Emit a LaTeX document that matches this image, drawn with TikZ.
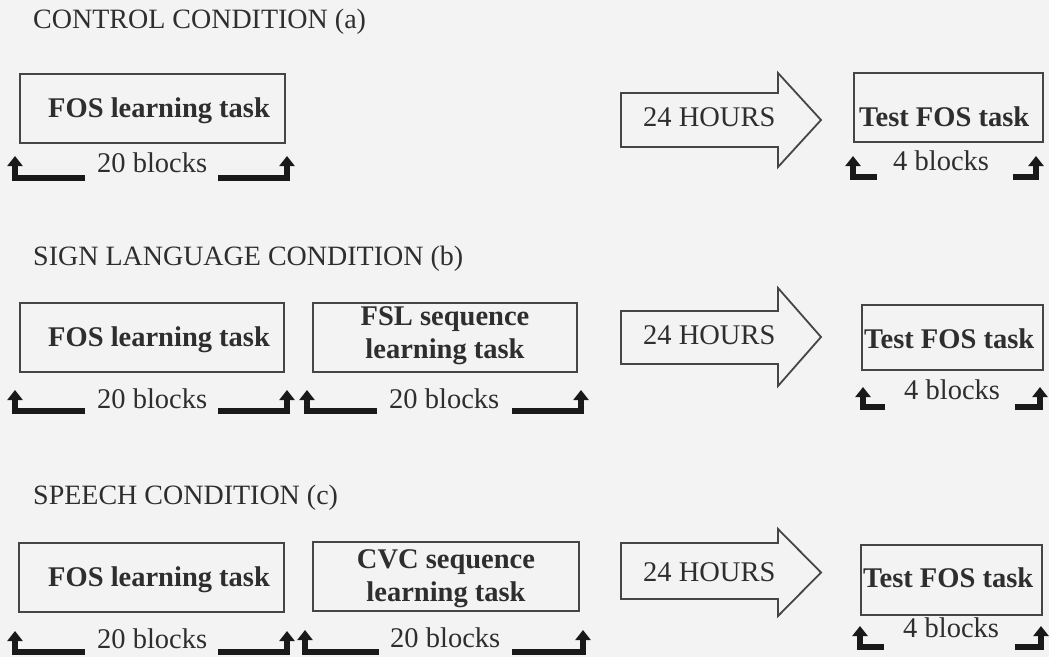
\documentclass[tikz,border=0pt]{standalone}
\usepackage{fontspec}
\setmainfont{Liberation Serif}
\usetikzlibrary{arrows.meta}
\definecolor{bgc}{HTML}{F3F3F3}
\definecolor{ink}{HTML}{2E2E2E}
\definecolor{linec}{HTML}{454545}
\newcommand{\hrsarrow}[4]{%
  \draw[harrow] (621,#1) -- (778,#1) -- (778,#3) -- (821,{(#3+#4)/2}) -- (778,#4) -- (778,#2) -- (621,#2) -- cycle;}
\newcommand{\brkt}[4]{\draw[brkline] (#1,#3) -- (#2,#3) -- (#2,#4);}
\begin{document}
\begin{tikzpicture}[x=1pt,y=-1pt,
  box/.style={draw=linec, line width=1.8pt, inner sep=0pt},
  ttl/.style={anchor=base west, font=\fontsize{28}{30}\selectfont, text=ink, inner sep=0pt},
  bt/.style={anchor=base west, font=\bfseries\fontsize{28.5}{33}\selectfont, text=ink, inner sep=0pt},
  bt2/.style={anchor=base, align=center, font=\bfseries\fontsize{28.5}{33}\selectfont, text=ink, inner sep=0pt},
  blk/.style={anchor=base west, font=\fontsize{28.5}{30}\selectfont, text=ink, inner sep=0pt},
  hrs/.style={anchor=base west, font=\fontsize{28.5}{30}\selectfont, text=ink, inner sep=0pt},
  harrow/.style={draw=linec, line width=1.8pt, line join=miter},
  brkline/.style={line width=5.8pt, black!90, line join=miter, -{Triangle[width=15pt,length=10pt]}}
]
\useasboundingbox[fill=bgc] (0,0) rectangle (1049,657);

% ---------------- Row a ----------------
\node[ttl] (ta) at (33,28) {CONTROL CONDITION (a)};
\node[box, minimum width=265pt, minimum height=69pt] (fosa) at (152.5,108.5) {};
\node[bt] (fosatx) at (48,117) {FOS learning task};
\brkt{85}{15}{178}{156}
\node[blk] (bla) at (97,172) {20 blocks};
\brkt{218}{287}{178}{156}
\hrsarrow{93}{147}{73}{167}
\node[hrs] (ha) at (643,126) {24 HOURS};
\node[box, minimum width=189pt, minimum height=69pt] (testa) at (948.5,107.5) {};
\node[bt] (testatx) at (859,126) {Test FOS task};
\node[blk] (b4a) at (893,170) {4 blocks};
\brkt{877}{853}{177}{156}
\brkt{1013}{1036}{177}{156}

% ---------------- Row b ----------------
\node[ttl] (tb) at (33,265) {SIGN LANGUAGE CONDITION (b)};
\node[box, minimum width=264pt, minimum height=69pt] (fosb) at (152,337.5) {};
\node[bt] (fosbtx) at (48,346) {FOS learning task};
\node[box, minimum width=264pt, minimum height=69pt] (fslb) at (445,337.5) {};
\node[bt2] (fslbtx) at (445,358) {FSL sequence\\learning task};
\brkt{85}{15}{411}{390}
\node[blk] (blb1) at (97,408) {20 blocks};
\brkt{218}{287}{411}{390}
\brkt{377}{307}{411}{390}
\node[blk] (blb2) at (389,408) {20 blocks};
\brkt{512}{581}{411}{390}
\hrsarrow{311}{364}{288}{386}
\node[hrs] (hb) at (643,344) {24 HOURS};
\node[box, minimum width=181pt, minimum height=65pt] (testb) at (952.5,337.5) {};
\node[bt] (testbtx) at (864,348) {Test FOS task};
\node[blk] (b4b) at (904,399) {4 blocks};
\brkt{885}{863}{407}{387}
\brkt{1015}{1040}{407}{387}

% ---------------- Row c ----------------
\node[ttl] (tc) at (33,504) {SPEECH CONDITION (c)};
\node[box, minimum width=265pt, minimum height=69pt] (fosc) at (151.5,577.5) {};
\node[bt] (fosctx) at (48,586) {FOS learning task};
\node[box, minimum width=266pt, minimum height=69pt] (cvcc) at (446,576.5) {};
\node[bt2] (cvcctx) at (446,601) {CVC sequence\\learning task};
\brkt{85}{15}{652}{631}
\node[blk] (blc1) at (97,648) {20 blocks};
\brkt{218}{287}{652}{631}
\brkt{379}{305}{652}{630}
\node[blk] (blc2) at (390,647) {20 blocks};
\brkt{512}{583}{652}{630}
\hrsarrow{543}{599}{529}{616}
\node[hrs] (hc) at (643,581) {24 HOURS};
\node[box, minimum width=181pt, minimum height=70pt] (testc) at (951.5,580) {};
\node[bt] (testctx) at (863,587) {Test FOS task};
\node[blk] (b4c) at (903,637) {4 blocks};
\brkt{884}{860}{647}{626}
\brkt{1015}{1041}{647}{626}
\end{tikzpicture}
\end{document}
